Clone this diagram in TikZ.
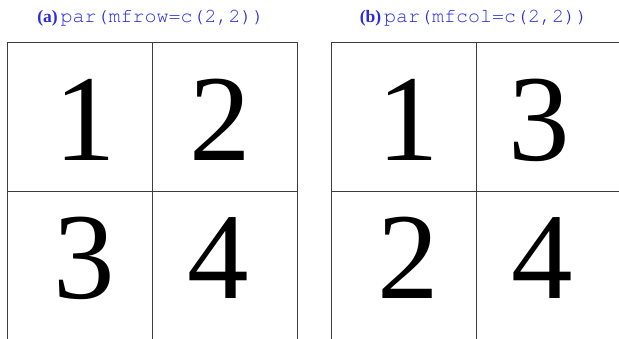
\documentclass[tikz,border=0pt]{standalone}
\usepackage{fontspec}
\setmainfont{Liberation Serif}
\setmonofont{TeX Gyre Cursor}
\definecolor{capblue}{RGB}{40,40,230}
\definecolor{gridline}{RGB}{60,60,60}
\tikzset{
  cell/.style={draw=gridline, line width=0.9pt, minimum width=145pt, minimum height=149pt, inner sep=0pt, anchor=north west},
  digit/.style={inner sep=0pt, font=\fontsize{123}{123}\selectfont},
  captext/.style={inner sep=0pt, text=capblue}
}
\begin{document}
\begin{tikzpicture}[x=1pt,y=-1pt]
\useasboundingbox (0,0) rectangle (619,338);
\clip (0,0) rectangle (619,338);
% panel (a)
\node[cell] (a11) at (7,42) {};
\node[cell] (a12) at (152,42) {};
\node[cell] (a21) at (7,191) {};
\node[cell] (a22) at (152,191) {};
\node[digit] (da1) at (85,120) {1};
\node[digit] (da2) at (220,120) {2};
\node[digit] (da3) at (84,258) {3};
\node[digit] (da4) at (218,258) {4};
% panel (b)
\node[cell] (b11) at (331,42) {};
\node[cell] (b12) at (476,42) {};
\node[cell] (b21) at (331,191) {};
\node[cell] (b22) at (476,191) {};
\node[digit] (db1) at (408.5,120) {1};
\node[digit] (db3) at (539,120) {3};
\node[digit] (db2) at (408.5,258) {2};
\node[digit] (db4) at (542,258) {4};
% captions
\node[captext] (capa) at (151,18) {\fontsize{17.5}{17.5}\selectfont\bfseries (a)\kern3pt\fontsize{20}{20}\selectfont\mdseries\ttfamily par(mfrow=c(2,2))};
\node[captext] (capb) at (474,18) {\fontsize{17.5}{17.5}\selectfont\bfseries (b)\kern3pt\fontsize{20}{20}\selectfont\mdseries\ttfamily par(mfcol=c(2,2))};
\end{tikzpicture}
\end{document}
